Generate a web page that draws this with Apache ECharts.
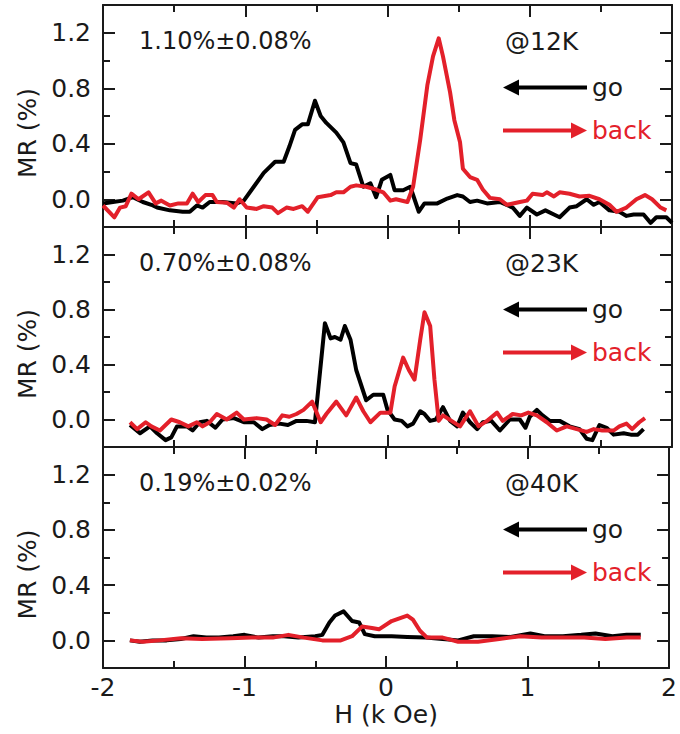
<!DOCTYPE html>
<html>
<head>
<meta charset="utf-8">
<title>MR vs H</title>
<script src="https://cdn.jsdelivr.net/npm/echarts@6/dist/echarts.min.js"></script>
<style>
    html, body { margin: 0; padding: 0; background: #fff; }
    #chart { width: 680px; height: 734px; }
</style>
</head>
<body>
<div id="chart"></div>
<script>
// H (k Oe) and MR (%), one pair of arrays per curve
var go12H = [-2.0, -1.93, -1.86, -1.79, -1.72, -1.66, -1.62, -1.53, -1.44, -1.39, -1.34, -1.30, -1.25, -1.16, -1.06, -1.01, -0.94, -0.87, -0.79, -0.73, -0.69, -0.65, -0.60, -0.56, -0.51, -0.47, -0.43, -0.36, -0.31, -0.26, -0.22, -0.17, -0.12, -0.08, -0.04, 0.02, 0.05, 0.11, 0.16, 0.22, 0.26, 0.35, 0.42, 0.49, 0.53, 0.58, 0.63, 0.70, 0.79, 0.88, 0.93, 0.98, 1.05, 1.11, 1.17, 1.21, 1.28, 1.33, 1.40, 1.45, 1.49, 1.56, 1.63, 1.68, 1.73, 1.80, 1.85, 1.89, 1.96, 2.0];
var go12MR = [-0.03, -0.02, -0.01, 0.015, -0.02, -0.04, -0.06, -0.08, -0.09, -0.09, -0.045, -0.06, -0.02, -0.02, -0.03, -0.01, 0.09, 0.19, 0.27, 0.27, 0.38, 0.50, 0.54, 0.54, 0.71, 0.60, 0.55, 0.48, 0.41, 0.26, 0.25, 0.09, 0.115, 0.015, 0.14, 0.175, 0.065, 0.065, 0.09, -0.09, -0.03, -0.03, 0.005, 0.03, 0.02, -0.02, -0.01, -0.03, -0.02, -0.06, -0.12, -0.06, -0.11, -0.08, -0.11, -0.13, -0.06, -0.05, 0.0, -0.04, -0.02, -0.08, -0.09, -0.12, -0.11, -0.11, -0.17, -0.13, -0.13, -0.17];
var back12H = [-2.0, -1.92, -1.88, -1.84, -1.80, -1.75, -1.68, -1.63, -1.59, -1.53, -1.47, -1.41, -1.37, -1.33, -1.28, -1.23, -1.20, -1.13, -1.08, -1.04, -0.99, -0.92, -0.87, -0.81, -0.77, -0.71, -0.66, -0.60, -0.56, -0.49, -0.40, -0.36, -0.31, -0.26, -0.22, -0.15, -0.08, -0.03, 0.02, 0.06, 0.14, 0.18, 0.23, 0.28, 0.32, 0.36, 0.39, 0.44, 0.47, 0.51, 0.53, 0.58, 0.63, 0.67, 0.72, 0.79, 0.84, 0.93, 0.98, 1.02, 1.09, 1.12, 1.17, 1.21, 1.28, 1.35, 1.42, 1.49, 1.56, 1.61, 1.68, 1.75, 1.81, 1.86, 1.92, 1.96];
var back12MR = [-0.045, -0.13, -0.06, -0.05, 0.04, 0.0, 0.05, -0.03, -0.01, -0.045, -0.03, -0.03, 0.04, -0.02, 0.03, 0.03, -0.02, -0.025, -0.06, 0.0, -0.06, -0.07, -0.05, -0.06, -0.10, -0.06, -0.07, -0.05, -0.09, 0.015, 0.03, 0.05, 0.05, 0.09, 0.10, 0.09, 0.07, 0.05, -0.01, 0.0, -0.02, 0.09, 0.43, 0.82, 1.03, 1.16, 1.03, 0.77, 0.57, 0.41, 0.22, 0.16, 0.14, 0.07, 0.01, 0.0, -0.04, -0.02, -0.01, 0.04, 0.03, 0.05, 0.02, 0.05, 0.04, 0.02, 0.025, 0.0, -0.04, -0.09, -0.06, 0.0, 0.03, 0.0, -0.06, -0.08];

var go23H = [-1.81, -1.74, -1.67, -1.62, -1.56, -1.52, -1.48, -1.41, -1.37, -1.32, -1.27, -1.21, -1.16, -1.08, -1.01, -0.94, -0.88, -0.83, -0.76, -0.70, -0.64, -0.57, -0.51, -0.44, -0.40, -0.37, -0.33, -0.30, -0.26, -0.22, -0.15, -0.10, -0.03, 0.0, 0.05, 0.10, 0.14, 0.18, 0.23, 0.26, 0.30, 0.34, 0.39, 0.44, 0.49, 0.53, 0.58, 0.63, 0.67, 0.73, 0.79, 0.86, 0.93, 0.97, 1.00, 1.05, 1.09, 1.14, 1.21, 1.28, 1.35, 1.40, 1.44, 1.49, 1.54, 1.59, 1.66, 1.71, 1.76, 1.80];
var go23MR = [-0.04, -0.10, -0.05, -0.10, -0.15, -0.13, -0.05, -0.05, -0.08, -0.02, -0.01, -0.06, 0.0, 0.01, -0.02, -0.02, -0.07, -0.04, -0.03, -0.04, -0.01, -0.01, -0.02, 0.70, 0.59, 0.60, 0.58, 0.68, 0.58, 0.36, 0.14, 0.18, 0.18, 0.07, 0.0, -0.01, -0.05, -0.03, 0.06, 0.04, -0.01, 0.0, 0.09, -0.01, -0.05, 0.05, -0.02, -0.07, -0.02, -0.01, -0.08, 0.0, 0.0, -0.06, 0.02, 0.07, 0.03, -0.01, -0.01, -0.05, -0.07, -0.14, -0.15, -0.04, -0.06, -0.11, -0.10, -0.11, -0.11, -0.07];
var back23H = [-1.81, -1.76, -1.70, -1.66, -1.60, -1.52, -1.46, -1.40, -1.34, -1.30, -1.25, -1.20, -1.13, -1.06, -1.01, -0.92, -0.85, -0.79, -0.74, -0.69, -0.64, -0.59, -0.53, -0.47, -0.43, -0.36, -0.29, -0.22, -0.17, -0.12, -0.05, 0.02, 0.05, 0.11, 0.15, 0.19, 0.23, 0.26, 0.30, 0.33, 0.36, 0.39, 0.45, 0.51, 0.58, 0.64, 0.70, 0.77, 0.81, 0.88, 0.94, 0.99, 1.05, 1.12, 1.19, 1.26, 1.33, 1.40, 1.45, 1.51, 1.59, 1.63, 1.68, 1.72, 1.77, 1.81];
var back23MR = [-0.02, -0.07, -0.02, -0.05, -0.08, 0.0, -0.02, -0.05, -0.02, -0.05, -0.02, 0.04, 0.0, 0.05, 0.0, 0.01, 0.0, -0.04, 0.03, 0.02, 0.04, 0.07, 0.13, -0.02, 0.04, 0.13, 0.03, 0.16, 0.06, -0.02, 0.05, 0.05, 0.24, 0.45, 0.36, 0.29, 0.58, 0.78, 0.68, 0.29, -0.01, 0.03, -0.01, -0.05, 0.06, -0.05, -0.01, 0.05, -0.01, 0.04, 0.03, 0.05, 0.03, -0.02, -0.08, -0.05, -0.07, -0.09, -0.07, -0.08, -0.08, -0.05, -0.03, -0.07, -0.02, 0.01];

var go40H = [-1.81, -1.74, -1.65, -1.55, -1.45, -1.36, -1.27, -1.18, -1.08, -1.00, -0.90, -0.80, -0.72, -0.62, -0.50, -0.45, -0.40, -0.36, -0.30, -0.24, -0.19, -0.15, -0.08, 0.04, 0.15, 0.28, 0.40, 0.51, 0.62, 0.75, 0.88, 1.02, 1.12, 1.25, 1.38, 1.48, 1.60, 1.70, 1.80];
var go40MR = [0.0, -0.01, 0.0, 0.0, 0.01, 0.03, 0.02, 0.02, 0.03, 0.04, 0.02, 0.03, 0.03, 0.02, 0.03, 0.04, 0.13, 0.18, 0.21, 0.14, 0.13, 0.045, 0.03, 0.03, 0.025, 0.02, 0.01, 0.0, 0.03, 0.03, 0.025, 0.05, 0.03, 0.03, 0.04, 0.05, 0.03, 0.04, 0.04];
var back40H = [-1.81, -1.72, -1.60, -1.45, -1.30, -1.10, -0.95, -0.80, -0.69, -0.58, -0.45, -0.32, -0.24, -0.17, -0.10, -0.05, 0.04, 0.15, 0.19, 0.24, 0.29, 0.40, 0.51, 0.65, 0.80, 0.95, 1.10, 1.25, 1.40, 1.55, 1.70, 1.80];
var back40MR = [0.0, -0.01, 0.0, 0.015, 0.01, 0.015, 0.02, 0.02, 0.04, 0.02, 0.0, 0.0, 0.03, 0.10, 0.09, 0.08, 0.14, 0.18, 0.15, 0.07, 0.02, 0.02, -0.01, -0.01, 0.01, 0.03, 0.02, 0.02, 0.02, 0.01, 0.02, 0.02];

var panelRates = ["1.10%\u00b10.08%", "0.70%\u00b10.08%", "0.19%\u00b10.02%"];
var panelTemps = ["@12K", "@23K", "@40K"];
var mrMajor = [0, 0.4, 0.8, 1.2];
var mrMinor = [0.2, 0.6, 1.0];

var FONT = "DejaVu Sans";
var INK = "#1a1a1a";
var RED = "#e3202a";
// legend icons: arrow to the left (go) and to the right (back)
var ARROW_LEFT = "path://M0,8 L16,0 L16,6 L84,6 L84,10 L16,10 L16,16 Z";
var ARROW_RIGHT = "path://M0,6 L68,6 L68,0 L84,8 L68,16 L68,10 L0,10 Z";

function zip(hs, ms) {
    var out = [];
    for (var i = 0; i < hs.length; i++) {
        out.push([hs[i], ms[i]]);
    }
    return out;
}

var curves = [
    [zip(go12H, go12MR), zip(back12H, back12MR)],
    [zip(go23H, go23MR), zip(back23H, back23MR)],
    [zip(go40H, go40MR), zip(back40H, back40MR)]
];

var grids = [
    { left: 103, right: 8, top: 5, height: 222 },
    { left: 103, right: 8, top: 227, height: 220 },
    { left: 103, right: 8, top: 447, height: 221 }
];

var axisLine = { show: true, onZero: false, lineStyle: { color: INK, width: 2 } };

function hAxis(idx, pos, withLabels) {
    return {
        type: "value",
        gridIndex: idx,
        position: pos,
        min: -2,
        max: 2,
        interval: 1,
        axisLine: axisLine,
        axisTick: { show: true, inside: true, length: 12, lineStyle: { color: INK, width: 2 } },
        minorTick: { show: true, splitNumber: 2, length: 7, lineStyle: { color: INK, width: 2 } },
        splitLine: { show: false },
        axisLabel: {
            show: withLabels,
            margin: 7,
            fontSize: 25,
            fontFamily: FONT,
            color: INK
        },
        name: withLabels ? "H (k Oe)" : "",
        nameLocation: "middle",
        nameGap: 34,
        nameTextStyle: { fontSize: 25, fontFamily: FONT, color: INK }
    };
}

function mrAxis(idx, pos, ticks, len, withLabels, showLine) {
    return {
        type: "value",
        gridIndex: idx,
        position: pos,
        min: -0.2,
        max: 1.4,
        interval: 0.2,
        axisLine: showLine ? axisLine : { show: false, onZero: false },
        axisTick: { show: true, inside: true, length: len, customValues: ticks, lineStyle: { color: INK, width: 2 } },
        splitLine: { show: false },
        axisLabel: {
            show: withLabels,
            customValues: ticks,
            margin: 12,
            fontSize: 25,
            fontFamily: FONT,
            color: INK,
            formatter: function (v) {
                var k = Math.round(v / 0.2);
                if (k < 0 || k % 2 !== 0 || k > 6) return "";
                return v.toFixed(1);
            }
        },
        name: withLabels ? "MR (%)" : "",
        nameLocation: "middle",
        nameGap: 62,
        nameTextStyle: { fontSize: 25, fontFamily: FONT, color: INK, padding: [0, 34, 0, 0] }
    };
}

function note(txt, left, y, size) {
    return {
        text: txt,
        left: left,
        top: y,
        padding: 0,
        textStyle: { fontSize: size, fontFamily: FONT, color: INK, fontWeight: "normal", lineHeight: size }
    };
}

var xAxes = [];
var yAxes = [];
var series = [];
var titles = [];
var legends = [];

for (var i = 0; i < 3; i++) {
    xAxes.push(hAxis(i, "bottom", i === 2));
    xAxes.push(hAxis(i, "top", false));
    yAxes.push(mrAxis(i, "left", mrMajor, 12, true, true));
    yAxes.push(mrAxis(i, "left", mrMinor, 7, false, false));
    yAxes.push(mrAxis(i, "right", mrMajor, 12, false, true));
    yAxes.push(mrAxis(i, "right", mrMinor, 7, false, false));

    series.push({
        name: "go",
        type: "line",
        xAxisIndex: i * 2,
        yAxisIndex: i * 4,
        data: curves[i][0],
        showSymbol: false,
        symbol: "none",
        itemStyle: { color: "#000" },
        lineStyle: { color: "#000", width: 4, join: "round" }
    });
    series.push({
        name: "back",
        type: "line",
        xAxisIndex: i * 2,
        yAxisIndex: i * 4,
        data: curves[i][1],
        showSymbol: false,
        symbol: "none",
        itemStyle: { color: RED },
        lineStyle: { color: RED, width: 4, join: "round" }
    });

    var panelTop = grids[i].top;
    titles.push(note(panelRates[i], 139, panelTop + 24, 24));
    titles.push(note(panelTemps[i], 505, panelTop + 24, 25));

    legends.push({
        orient: "vertical",
        left: 503,
        top: panelTop + 70,
        padding: 0,
        itemWidth: 84,
        itemHeight: 16,
        itemGap: 18,
        selectedMode: false,
        textStyle: { fontSize: 25, fontFamily: FONT, lineHeight: 16 },
        data: [
            { name: "go", icon: ARROW_LEFT, textStyle: { color: INK } },
            { name: "back", icon: ARROW_RIGHT, textStyle: { color: RED } }
        ]
    });
}

var myChart = echarts.init(document.getElementById("chart"), null, { renderer: "svg" });
myChart.setOption({
    animation: false,
    backgroundColor: "#fff",
    title: titles,
    legend: legends,
    grid: grids,
    xAxis: xAxes,
    yAxis: yAxes,
    series: series
});
</script>
</body>
</html>
